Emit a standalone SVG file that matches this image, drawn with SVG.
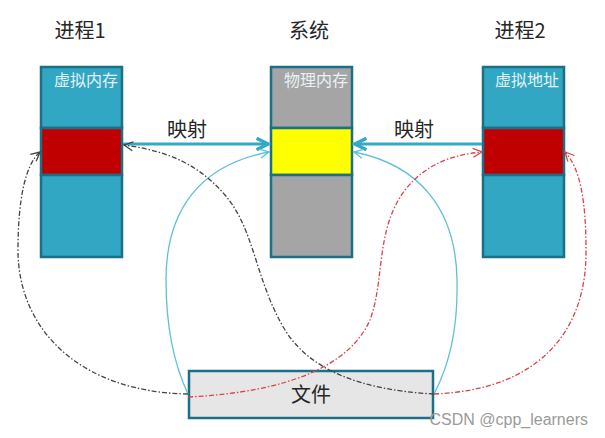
<svg xmlns="http://www.w3.org/2000/svg" width="605" height="438" viewBox="0 0 605 438">
<style>
.title{font-family:"Noto Sans CJK SC","Noto Sans",sans-serif;font-size:20px;fill:#262626;text-anchor:middle}
.lbl{font-family:"Noto Sans CJK SC","Noto Sans",sans-serif;font-size:16px;fill:#e8f2f6;text-anchor:middle}
.box{stroke:#1b6f86;stroke-width:2.5}
.blue{fill:#31a7c4}
.gray{fill:#a5a5a5}
.red{fill:#c00000}
.yel{fill:#ffff00}
.thick{stroke:#33a9c6;stroke-width:3;fill:none}
.thin{stroke:#5fc0d8;stroke-width:1.3;fill:none}
.blk{stroke:#444;stroke-width:1.3;fill:none;stroke-dasharray:5 2 1.5 2}
.rd{stroke:#d9434a;stroke-width:1.3;fill:none;stroke-dasharray:5 2 1.5 2}
</style>
<defs>
<marker id="aThick" markerUnits="userSpaceOnUse" markerWidth="16" markerHeight="16" refX="11" refY="6" orient="auto" viewBox="0 0 14 12">
<path d="M1,1 L11,6 L1,11" fill="none" stroke="#33a9c6" stroke-width="3"/>
</marker>
<marker id="aThin" markerUnits="userSpaceOnUse" markerWidth="12" markerHeight="12" refX="10" refY="5" orient="auto" viewBox="0 0 12 10">
<path d="M1,0.5 L10,5 L1,9.5" fill="none" stroke="#5fc0d8" stroke-width="1.3"/>
</marker>
<marker id="aBlk" markerUnits="userSpaceOnUse" markerWidth="12" markerHeight="12" refX="10" refY="5" orient="auto" viewBox="0 0 12 10">
<path d="M1,0.5 L10,5 L1,9.5" fill="none" stroke="#444" stroke-width="1.3"/>
</marker>
<marker id="aRed" markerUnits="userSpaceOnUse" markerWidth="12" markerHeight="12" refX="10" refY="5" orient="auto" viewBox="0 0 12 10">
<path d="M1,0.5 L10,5 L1,9.5" fill="none" stroke="#d9434a" stroke-width="1.3"/>
</marker>
</defs>

<g id="title1"><text class="title" x="80" y="38">进程1</text></g>
<g id="title2"><text class="title" x="309" y="38">系统</text></g>
<g id="title3"><text class="title" x="520" y="38">进程2</text></g>

<g id="proc1">
<rect class="box blue" x="41" y="67" width="81" height="61"/>
<rect class="box red" x="41" y="128" width="81" height="47"/>
<rect class="box blue" x="41" y="175" width="81" height="82"/>
<text class="lbl" x="86" y="86">虚拟内存</text>
</g>

<g id="system">
<rect class="box gray" x="271" y="67" width="81" height="61"/>
<rect class="box yel" x="271" y="128" width="81" height="47"/>
<rect class="box gray" x="271" y="175" width="81" height="82"/>
<text class="lbl" x="316" y="86">物理内存</text>
</g>

<g id="proc2">
<rect class="box blue" x="483" y="67" width="81" height="61"/>
<rect class="box red" x="483" y="128" width="81" height="47"/>
<rect class="box blue" x="483" y="175" width="81" height="82"/>
<text class="lbl" x="527" y="86">虚拟地址</text>
</g>

<g id="file">
<rect class="box" fill="#e6e6e6" x="189" y="371" width="244" height="47"/>
<text class="title" x="311" y="402">文件</text>
</g>

<g id="connectors">
<path class="thick" d="M123,144 L268,144" marker-end="url(#aThick)"/>
<path class="thick" d="M482,144 L355,144" marker-end="url(#aThick)"/>
<text class="title" x="187" y="137">映射</text>
<text class="title" x="414" y="137">映射</text>
<path class="thin" d="M188,394 C172,360 166,320 166,280 C166,210 200,165 269,152" marker-end="url(#aThin)"/>
<path class="thin" d="M434,394 C452,360 458,320 457,280 C456,210 420,165 354,152" marker-end="url(#aThin)"/>
<path class="blk" d="M188,394 C80,392 18,330 18,250 C18,200 25,165 40,152" marker-end="url(#aBlk)"/>
<path class="blk" d="M434,394 C360,390 310,370 285,330 C255,280 255,230 225,195 C195,160 160,150 124,145" marker-end="url(#aBlk)"/>
<path class="rd" d="M188,397 C290,392 350,365 370,320 C385,280 375,230 405,190 C425,165 450,155 482,152" marker-end="url(#aRed)"/>
<path class="rd" d="M434,394 C540,390 587,330 586,250 C586,200 580,168 565,152" marker-end="url(#aRed)"/>
</g>

<text x="588" y="425" font-family="Liberation Sans, Arial, sans-serif" font-size="16" fill="#9a9a9a" text-anchor="end">CSDN @cpp_learners</text>
</svg>
